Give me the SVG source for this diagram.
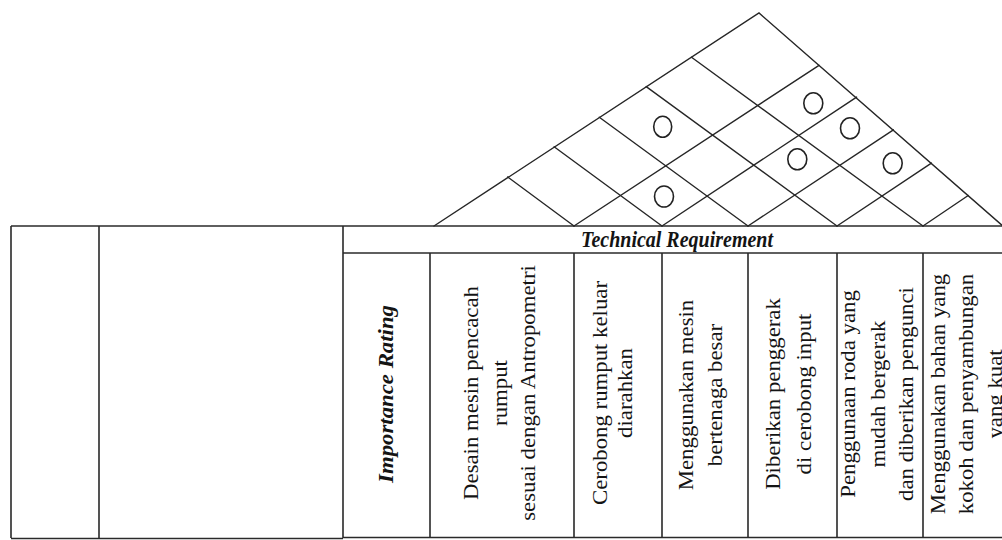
<svg xmlns="http://www.w3.org/2000/svg" width="1002" height="540" viewBox="0 0 1002 540">
<style>
.ln{stroke:#262626;stroke-width:1.4;fill:none;stroke-linecap:round}
.tb{stroke:#2a2a2a;stroke-width:1.6;fill:none}
.ck{stroke:#222;stroke-width:1.6;fill:none}
.t{font-family:"Liberation Serif","Times New Roman",serif;font-size:20px;fill:#141414;text-anchor:middle}
.bi{font-weight:bold;font-style:italic}
</style>
<rect width="1002" height="540" fill="#ffffff"/>
<g id="roof">
<path class="ln" d="M434,226 L759,13 L1004,227"/>
<path class="ln" d="M507.7,177 L574,226 M554.1,146.8 L662,226 M599.3,117.2 L748,226 M646.2,86.6 L837,226 M691.5,57.2 L923,226"/>
<path class="ln" d="M574,226 L819,65.3 M662,226 L856.6,97.1 M748,226 L893.4,129.8 M837,226 L931.4,163.1 M923,226 L968.2,195.5"/>
<ellipse class="ck" cx="662.7" cy="126.7" rx="9" ry="10.5"/>
<ellipse class="ck" cx="813.3" cy="103.3" rx="9.5" ry="10.5"/>
<ellipse class="ck" cx="850" cy="128.3" rx="9.5" ry="10.5"/>
<ellipse class="ck" cx="797.3" cy="159.3" rx="9.5" ry="10.5"/>
<ellipse class="ck" cx="892.7" cy="163.3" rx="9.5" ry="10.5"/>
<ellipse class="ck" cx="664" cy="196.5" rx="9.5" ry="10.5"/>
</g>
<g id="table">
<path class="tb" d="M11,226 L1004,226" stroke-width="2"/>
<path class="tb" d="M11,226 L11,538 M99,226 L99,538 M343,226 L343,538"/>
<path class="tb" d="M343,253 L1004,253"/>
<path class="tb" d="M430,253 L430,537 M574,253 L574,537 M662,253 L662,537 M748,253 L748,537 M837,253 L837,537 M923,253 L923,537"/>
<path class="tb" d="M11,538.5 L343,538.5"/>
<path class="tb" d="M343,537.5 L1004,537.5" stroke-width="3"/>
</g>
<g id="header">
<text class="t bi" transform="translate(677,247) scale(1,1.14)">Technical Requirement</text>
</g>
<g id="col-importance" transform="translate(0,394)">
<text class="t bi" transform="translate(393,0) rotate(-90) scale(1.14,1)">Importance Rating</text>
</g>
<g id="col-desain" transform="translate(0,393)">
<text class="t" transform="translate(478,0) rotate(-90) scale(1.14,1)">Desain mesin pencacah</text>
<text class="t" transform="translate(507,0) rotate(-90) scale(1.14,1)">rumput</text>
<text class="t" transform="translate(535,0) rotate(-90) scale(1.14,1)">sesuai dengan Antropometri</text>
</g>
<g id="col-cerobong" transform="translate(0,393)">
<text class="t" transform="translate(607,0) rotate(-90) scale(1.14,1)">Cerobong rumput keluar</text>
<text class="t" transform="translate(632,0) rotate(-90) scale(1.14,1)">diarahkan</text>
</g>
<g id="col-mesin" transform="translate(0,395)">
<text class="t" transform="translate(693,0) rotate(-90) scale(1.14,1)">Menggunakan mesin</text>
<text class="t" transform="translate(722,0) rotate(-90) scale(1.14,1)">bertenaga besar</text>
</g>
<g id="col-penggerak" transform="translate(0,394)">
<text class="t" transform="translate(780,0) rotate(-90) scale(1.14,1)">Diberikan penggerak</text>
<text class="t" transform="translate(811,0) rotate(-90) scale(1.14,1)">di cerobong input</text>
</g>
<g id="col-roda" transform="translate(0,394)">
<text class="t" transform="translate(855,0) rotate(-90) scale(1.14,1)">Penggunaan roda yang</text>
<text class="t" transform="translate(885,0) rotate(-90) scale(1.14,1)">mudah bergerak</text>
<text class="t" transform="translate(913,0) rotate(-90) scale(1.14,1)">dan diberikan pengunci</text>
</g>
<g id="col-bahan" transform="translate(0,394)">
<text class="t" transform="translate(945,0) rotate(-90) scale(1.14,1)">Menggunakan bahan yang</text>
<text class="t" transform="translate(973,0) rotate(-90) scale(1.14,1)">kokoh dan penyambungan</text>
<text class="t" transform="translate(1002,0) rotate(-90) scale(1.14,1)">yang kuat</text>
</g>
</svg>
